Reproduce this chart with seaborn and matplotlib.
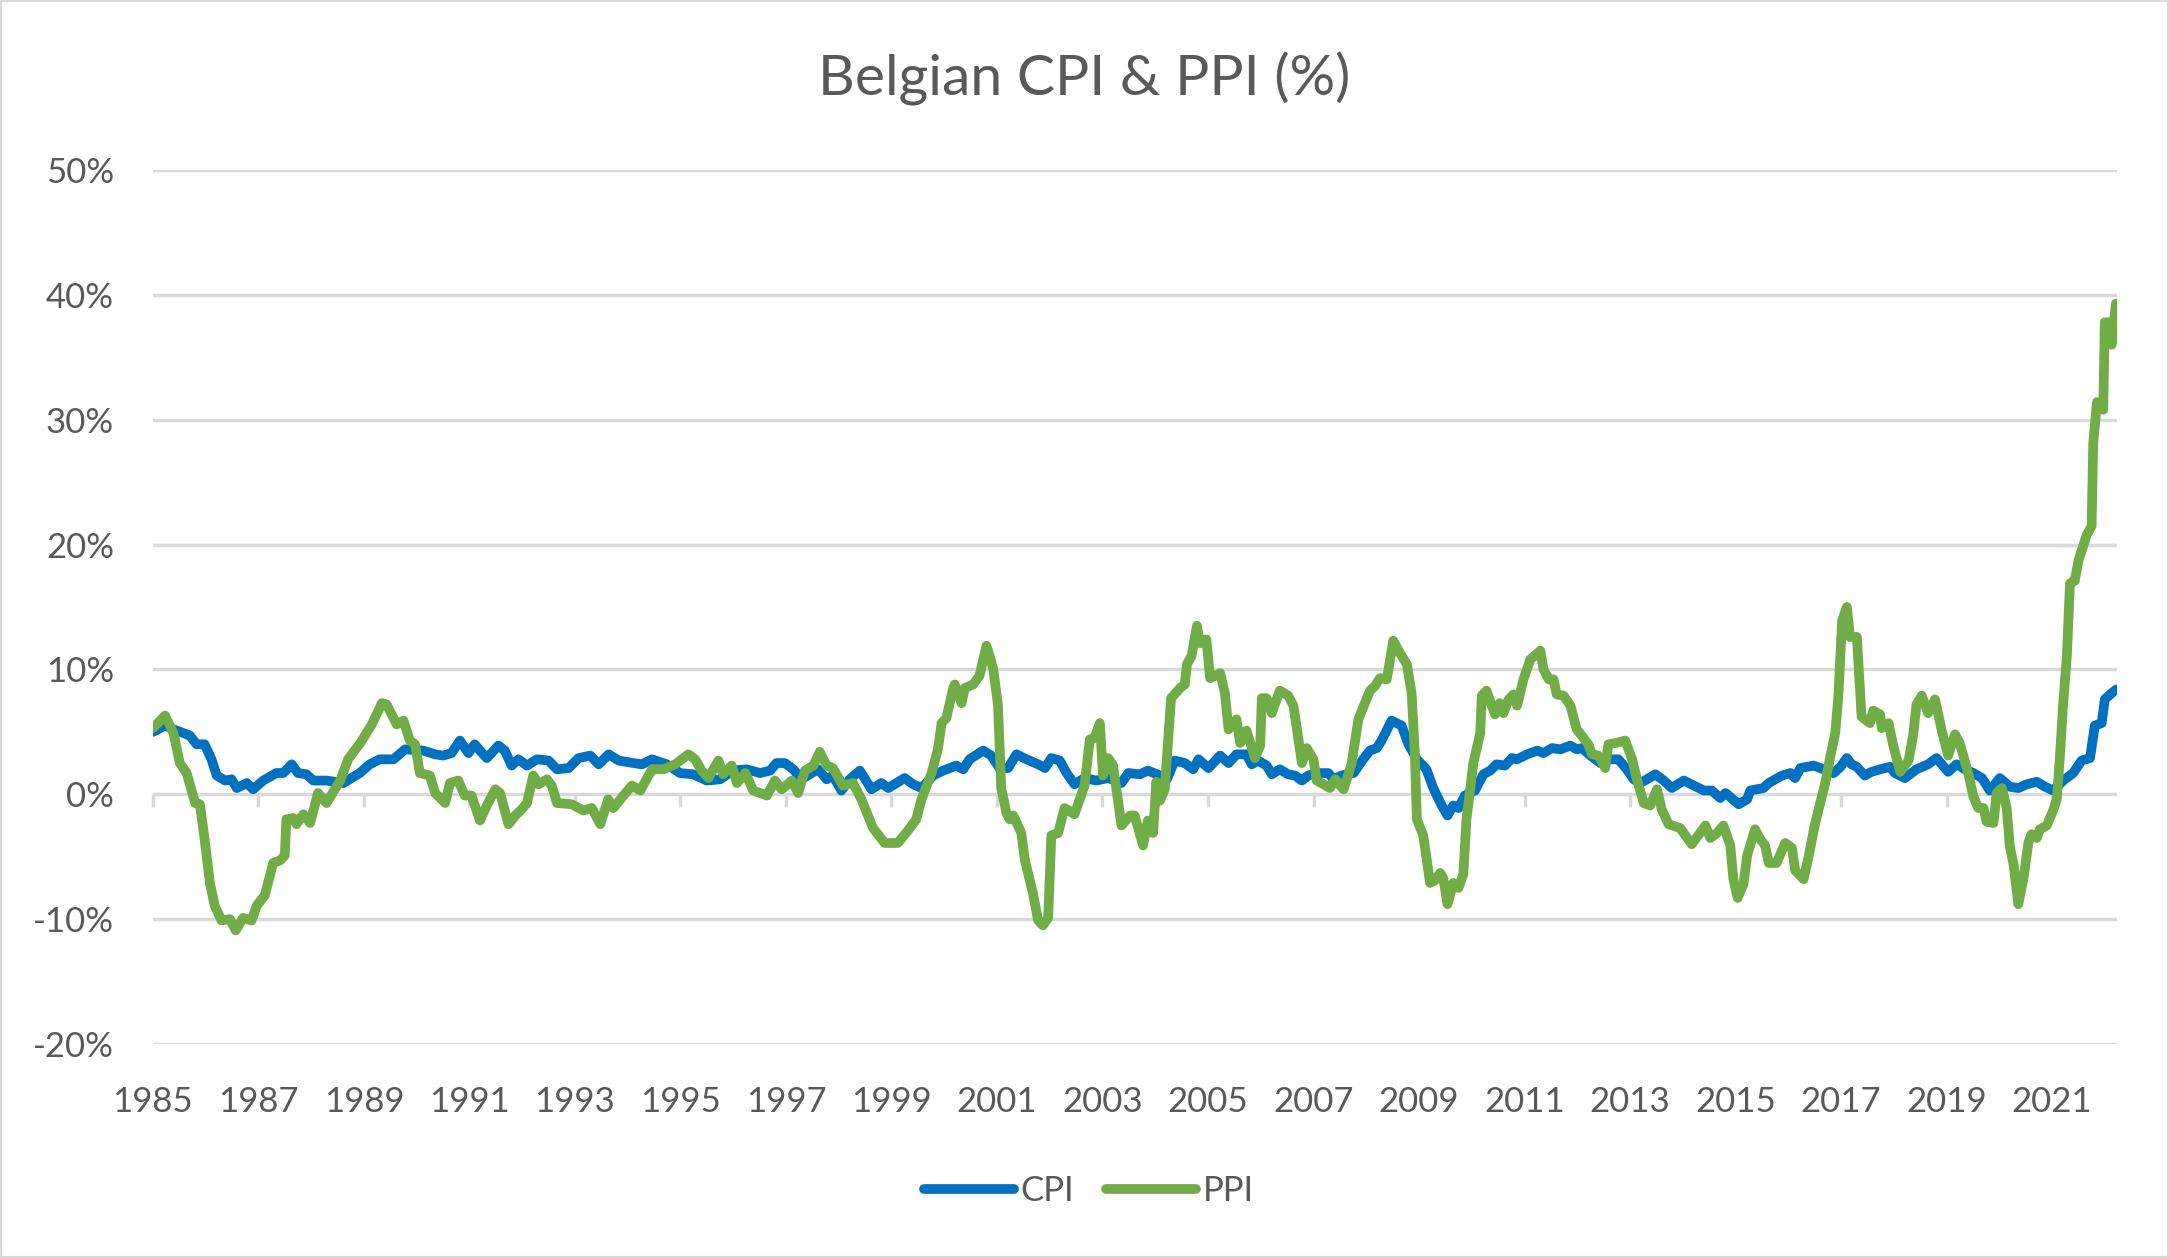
#Belgian CPI & PPI (%) - inflatie pe an, date
import numpy as np
import pandas as pd
import seaborn as sns
import matplotlib.pyplot as plt
from matplotlib.ticker import FuncFormatter
from matplotlib.patches import Rectangle

# CPI - ani zecimali si valori (%)
cpi_date = [1985.00, 1985.23, 1985.39, 1985.58, 1985.70, 1985.83, 1985.98, 1986.11, 1986.21, 1986.37,
            1986.49, 1986.59, 1986.78, 1986.90, 1987.09, 1987.34, 1987.47, 1987.63, 1987.75, 1987.91,
            1988.04, 1988.29, 1988.61, 1988.92, 1989.11, 1989.30, 1989.56, 1989.78, 1990.12, 1990.35,
            1990.50, 1990.66, 1990.82, 1990.98, 1991.10, 1991.20, 1991.33, 1991.55, 1991.67, 1991.80,
            1991.93, 1992.09, 1992.28, 1992.50, 1992.66, 1992.88, 1993.07, 1993.29, 1993.45, 1993.64,
            1993.83, 1994.11, 1994.27, 1994.46, 1994.74, 1994.99, 1995.24, 1995.50, 1995.75, 1996.00,
            1996.25, 1996.51, 1996.70, 1996.82, 1996.98, 1997.14, 1997.29, 1997.45, 1997.61, 1997.77,
            1997.89, 1998.05, 1998.21, 1998.40, 1998.62, 1998.81, 1998.94, 1999.25, 1999.41, 1999.57,
            1999.79, 1999.98, 2000.23, 2000.36, 2000.48, 2000.74, 2000.89, 2001.05, 2001.21, 2001.37,
            2001.56, 2001.78, 2001.91, 2002.03, 2002.19, 2002.32, 2002.47, 2002.66, 2002.88, 2003.11,
            2003.36, 2003.49, 2003.71, 2003.86, 2004.09, 2004.22, 2004.37, 2004.56, 2004.72, 2004.82,
            2005.01, 2005.23, 2005.39, 2005.54, 2005.73, 2005.83, 2005.95, 2006.11, 2006.21, 2006.36,
            2006.52, 2006.65, 2006.78, 2006.90, 2007.09, 2007.28, 2007.38, 2007.53, 2007.76, 2007.94,
            2008.07, 2008.20, 2008.29, 2008.48, 2008.67, 2008.80, 2008.96, 2009.14, 2009.27, 2009.43,
            2009.54, 2009.65, 2009.75, 2009.87, 2010.06, 2010.22, 2010.35, 2010.47, 2010.63, 2010.76,
            2010.86, 2011.05, 2011.24, 2011.36, 2011.52, 2011.68, 2011.87, 2011.99, 2012.09, 2012.25,
            2012.44, 2012.63, 2012.78, 2012.94, 2013.07, 2013.19, 2013.32, 2013.48, 2013.64, 2013.79,
            2014.02, 2014.21, 2014.40, 2014.55, 2014.71, 2014.81, 2015.06, 2015.22, 2015.28, 2015.53,
            2015.63, 2015.88, 2016.04, 2016.13, 2016.23, 2016.48, 2016.67, 2016.86, 2016.99, 2017.11,
            2017.20, 2017.30, 2017.45, 2017.58, 2017.74, 2017.93, 2018.02, 2018.21, 2018.43, 2018.65,
            2018.81, 2019.03, 2019.19, 2019.35, 2019.51, 2019.67, 2019.82, 2020.01, 2020.20, 2020.36,
            2020.52, 2020.71, 2020.87, 2021.02, 2021.21, 2021.40, 2021.56, 2021.72, 2021.81, 2021.94,
            2022.00, 2022.13, 2022.22]
cpi_val = [5.0, 5.5, 5.2, 4.9, 4.7, 4.0, 4.0, 2.8, 1.5, 1.1,
           1.2, 0.5, 0.9, 0.4, 1.1, 1.7, 1.7, 2.4, 1.7, 1.6,
           1.1, 1.1, 0.9, 1.7, 2.4, 2.8, 2.8, 3.6, 3.5, 3.2,
           3.1, 3.3, 4.3, 3.3, 4.0, 3.5, 2.9, 3.9, 3.5, 2.3,
           2.8, 2.3, 2.8, 2.7, 2.0, 2.1, 2.9, 3.1, 2.4, 3.2,
           2.7, 2.5, 2.4, 2.8, 2.4, 1.7, 1.6, 1.1, 1.2, 1.9,
           2.0, 1.7, 1.9, 2.5, 2.5, 2.0, 1.2, 1.6, 2.0, 1.2,
           1.5, 0.3, 1.2, 1.9, 0.4, 0.9, 0.5, 1.3, 0.8, 0.5,
           1.5, 1.9, 2.3, 2.0, 2.8, 3.5, 3.1, 2.1, 2.1, 3.2,
           2.8, 2.4, 2.1, 2.9, 2.7, 1.7, 0.8, 1.3, 1.1, 1.3,
           0.9, 1.7, 1.6, 1.9, 1.5, 1.2, 2.7, 2.5, 2.0, 2.8,
           2.1, 3.1, 2.5, 3.2, 3.2, 2.4, 2.7, 2.3, 1.6, 2.0,
           1.6, 1.5, 1.1, 1.5, 1.7, 1.7, 1.2, 1.5, 1.7, 2.8,
           3.5, 3.7, 4.3, 5.9, 5.5, 4.0, 2.8, 2.0, 0.5, -0.9,
           -1.7, -0.9, -1.1, -0.1, 0.3, 1.6, 1.9, 2.4, 2.3, 2.9,
           2.8, 3.2, 3.5, 3.3, 3.7, 3.6, 3.9, 3.6, 3.7, 3.1,
           2.5, 2.8, 2.8, 2.0, 1.2, 0.9, 1.2, 1.6, 1.1, 0.5,
           1.1, 0.7, 0.3, 0.3, -0.3, 0.1, -0.8, -0.4, 0.3, 0.5,
           0.9, 1.5, 1.7, 1.3, 2.1, 2.3, 2.0, 1.7, 2.2, 2.9,
           2.4, 2.2, 1.5, 1.8, 2.0, 2.2, 1.7, 1.3, 2.0, 2.4,
           2.9, 1.8, 2.4, 2.0, 1.7, 1.3, 0.3, 1.3, 0.6, 0.5,
           0.8, 1.0, 0.6, 0.3, 1.1, 1.7, 2.7, 2.9, 5.5, 5.7,
           7.6, 8.1, 8.4]

# PPI - ani zecimali si valori (%)
ppi_date = [1985.00, 1985.23, 1985.39, 1985.51, 1985.64, 1985.80, 1985.89, 1985.98, 1986.08, 1986.17,
            1986.30, 1986.46, 1986.57, 1986.71, 1986.87, 1986.97, 1987.12, 1987.28, 1987.41, 1987.50,
            1987.53, 1987.66, 1987.72, 1987.85, 1987.98, 1988.13, 1988.29, 1988.55, 1988.70, 1988.93,
            1989.15, 1989.34, 1989.43, 1989.62, 1989.75, 1989.87, 1989.97, 1990.06, 1990.25, 1990.35,
            1990.54, 1990.63, 1990.79, 1990.91, 1991.04, 1991.20, 1991.33, 1991.49, 1991.58, 1991.74,
            1991.87, 1991.99, 1992.09, 1992.21, 1992.31, 1992.47, 1992.56, 1992.66, 1992.94, 1993.16,
            1993.32, 1993.48, 1993.63, 1993.73, 1993.92, 1994.08, 1994.24, 1994.46, 1994.68, 1994.90,
            1995.15, 1995.28, 1995.40, 1995.53, 1995.72, 1995.81, 1995.97, 1996.07, 1996.23, 1996.38,
            1996.64, 1996.79, 1996.92, 1997.11, 1997.23, 1997.36, 1997.52, 1997.64, 1997.77, 1997.89,
            1998.08, 1998.27, 1998.43, 1998.65, 1998.87, 1999.12, 1999.35, 1999.47, 1999.57, 1999.76,
            1999.88, 1999.95, 2000.04, 2000.17, 2000.20, 2000.33, 2000.39, 2000.55, 2000.67, 2000.80,
            2000.86, 2000.93, 2001.02, 2001.08, 2001.18, 2001.24, 2001.31, 2001.46, 2001.53, 2001.68,
            2001.78, 2001.87, 2001.97, 2002.03, 2002.16, 2002.28, 2002.47, 2002.57, 2002.66, 2002.76,
            2002.85, 2002.95, 2003.01, 2003.11, 2003.20, 2003.36, 2003.52, 2003.61, 2003.77, 2003.86,
            2003.96, 2004.02, 2004.09, 2004.18, 2004.30, 2004.47, 2004.56, 2004.60, 2004.69, 2004.79,
            2004.85, 2004.97, 2005.04, 2005.23, 2005.32, 2005.39, 2005.54, 2005.61, 2005.73, 2005.89,
            2005.99, 2006.02, 2006.11, 2006.21, 2006.36, 2006.52, 2006.62, 2006.78, 2006.87, 2007.00,
            2007.06, 2007.19, 2007.31, 2007.41, 2007.57, 2007.72, 2007.85, 2008.07, 2008.17, 2008.26,
            2008.39, 2008.51, 2008.64, 2008.77, 2008.86, 2008.92, 2008.96, 2009.08, 2009.21, 2009.30,
            2009.40, 2009.46, 2009.54, 2009.65, 2009.75, 2009.84, 2009.90, 2010.03, 2010.16, 2010.19,
            2010.28, 2010.44, 2010.53, 2010.60, 2010.70, 2010.79, 2010.86, 2010.98, 2011.11, 2011.30,
            2011.36, 2011.46, 2011.55, 2011.61, 2011.74, 2011.87, 2011.99, 2012.12, 2012.21, 2012.28,
            2012.40, 2012.53, 2012.59, 2012.72, 2012.91, 2013.04, 2013.13, 2013.26, 2013.38, 2013.51,
            2013.60, 2013.73, 2013.95, 2014.05, 2014.17, 2014.43, 2014.52, 2014.65, 2014.77, 2014.90,
            2014.96, 2015.04, 2015.15, 2015.22, 2015.37, 2015.47, 2015.56, 2015.63, 2015.78, 2015.94,
            2016.07, 2016.13, 2016.29, 2016.38, 2016.51, 2016.70, 2016.80, 2016.89, 2016.95, 2017.02,
            2017.11, 2017.17, 2017.30, 2017.39, 2017.55, 2017.61, 2017.74, 2017.77, 2017.90, 2017.99,
            2018.12, 2018.28, 2018.37, 2018.43, 2018.53, 2018.65, 2018.78, 2018.91, 2019.03, 2019.16,
            2019.25, 2019.41, 2019.51, 2019.60, 2019.70, 2019.76, 2019.89, 2019.95, 2020.05, 2020.14,
            2020.20, 2020.27, 2020.36, 2020.46, 2020.55, 2020.61, 2020.71, 2020.77, 2020.90, 2021.02,
            2021.09, 2021.15, 2021.21, 2021.28, 2021.34, 2021.43, 2021.50, 2021.66, 2021.75, 2021.78,
            2021.85, 2021.97, 2022.00, 2022.07, 2022.13, 2022.21]
ppi_val = [5.3, 6.3, 4.9, 2.5, 1.7, -0.7, -0.8, -3.6, -7.1, -8.9,
           -10.1, -10.0, -10.9, -9.9, -10.1, -8.9, -8.1, -5.5, -5.3, -4.9,
           -2.0, -1.9, -2.4, -1.6, -2.3, 0.1, -0.7, 1.1, 2.8, 4.1,
           5.6, 7.3, 7.2, 5.6, 5.9, 4.3, 4.0, 1.7, 1.5, 0.1,
           -0.7, 0.9, 1.1, -0.1, -0.1, -2.1, -0.9, 0.4, 0.1, -2.4,
           -1.7, -1.2, -0.7, 1.5, 0.8, 1.2, 0.7, -0.7, -0.8, -1.3,
           -1.1, -2.4, -0.4, -1.1, -0.1, 0.7, 0.3, 2.0, 2.0, 2.4,
           3.2, 2.8, 1.9, 1.3, 2.7, 1.6, 2.3, 0.9, 1.7, 0.3,
           -0.1, 1.1, 0.4, 1.1, 0.1, 1.9, 2.3, 3.4, 2.3, 2.1,
           0.7, 0.9, -0.4, -2.7, -3.9, -3.9, -2.7, -2.0, -0.4, 1.7,
           3.6, 5.7, 6.1, 8.5, 8.8, 7.3, 8.5, 8.8, 9.5, 11.9,
           11.1, 10.0, 7.1, 0.5, -1.5, -2.0, -1.7, -3.1, -5.3, -7.9,
           -10.1, -10.5, -9.9, -3.3, -3.1, -1.1, -1.6, -0.4, 0.7, 4.4,
           4.5, 5.7, 1.5, 2.9, 2.3, -2.5, -1.7, -1.7, -4.1, -2.1,
           -3.1, 1.0, -0.5, 0.4, 7.7, 8.5, 8.8, 10.4, 11.1, 13.5,
           12.1, 12.4, 9.3, 9.7, 8.1, 5.2, 6.0, 4.1, 5.1, 2.9,
           3.9, 7.7, 7.7, 6.5, 8.3, 7.9, 7.1, 2.5, 3.7, 2.8,
           1.1, 0.8, 0.5, 1.2, 0.4, 2.4, 6.0, 8.3, 8.7, 9.3,
           9.2, 12.3, 11.3, 10.4, 8.1, 3.3, -2.0, -3.3, -7.1, -6.9,
           -6.3, -6.7, -8.8, -7.1, -7.5, -6.4, -2.0, 2.5, 4.9, 7.9,
           8.3, 6.4, 7.3, 6.5, 7.6, 8.0, 7.1, 9.2, 10.8, 11.5,
           10.0, 9.2, 9.2, 8.0, 7.9, 7.1, 5.2, 4.5, 4.0, 3.2,
           3.1, 2.1, 4.0, 4.1, 4.3, 2.8, 1.2, -0.7, -0.9, 0.4,
           -1.2, -2.4, -2.7, -3.3, -4.0, -2.5, -3.5, -3.1, -2.5, -4.1,
           -6.8, -8.3, -7.2, -4.9, -2.8, -3.6, -4.1, -5.5, -5.5, -3.9,
           -4.3, -6.1, -6.8, -5.1, -2.3, 0.9, 3.1, 4.9, 7.9, 13.9,
           15.0, 12.6, 12.6, 6.2, 5.7, 6.7, 6.4, 5.3, 5.7, 3.9,
           1.8, 2.7, 4.8, 7.2, 7.9, 6.5, 7.6, 5.1, 3.1, 4.8,
           4.1, 1.7, -0.2, -1.1, -1.1, -2.2, -2.3, 0.1, 0.5, -1.1,
           -4.2, -5.6, -8.8, -6.7, -3.9, -3.2, -3.5, -2.8, -2.5, -1.3,
           -0.4, 3.1, 7.2, 11.0, 16.9, 17.1, 18.7, 20.8, 21.5, 28.1,
           31.4, 30.8, 37.8, 37.8, 36.0, 39.3]

ani_etichete = list(range(1985, 2022, 2))
y_ticks = [-20, -10, 0, 10, 20, 30, 40, 50]

cpi = pd.DataFrame({"data": cpi_date, "val": cpi_val})
ppi = pd.DataFrame({"data": ppi_date, "val": ppi_val})

sns.set_style("white")
plt.rcParams["font.family"] = ["Lato", "DejaVu Sans"]
gri_text = "#595959"
gri_grid = "#d9d9d9"

fig = plt.figure(figsize=(21.69, 12.58), dpi=100)
ax = fig.add_axes([0.0705, 0.1701, 0.9055, 0.6948])

sns.lineplot(data=cpi, x="data", y="val", ax=ax, color="#0070C0", linewidth=7,
             label="CPI", estimator=None, sort=False)
sns.lineplot(data=ppi, x="data", y="val", ax=ax, color="#70AD47", linewidth=7,
             label="PPI", estimator=None, sort=False)
for ln in ax.get_lines():
    ln.set_solid_joinstyle("round")

ax.set_xlim(1985, 2022.23)
ax.set_ylim(-20, 50)
ax.set_yticks(y_ticks)
ax.yaxis.set_major_formatter(FuncFormatter(lambda v, p: "%d%%" % v))
ax.set_xticks(ani_etichete)
ax.set_xticklabels([str(a) for a in ani_etichete])
ax.set_xlabel("")
ax.set_ylabel("")
ax.grid(axis="y", color=gri_grid, linewidth=2.5)
ax.set_axisbelow(True)
for s in ax.spines.values():
    s.set_visible(False)
ax.tick_params(axis="both", length=0, labelsize=25, labelcolor=gri_text)
ax.tick_params(axis="y", pad=28)
ax.tick_params(axis="x", pad=30)

# axa orizontala la 0% cu gradatii (ca in Excel)
sec = ax.secondary_xaxis(20 / 70)
sec.set_xticks(ani_etichete)
sec.set_xticklabels([])
sec.tick_params(axis="x", direction="out", length=9.5, width=2.4, color=gri_grid)
for s in sec.spines.values():
    s.set_visible(False)

ax.get_legend().remove()
h, l = ax.get_legend_handles_labels()
leg = fig.legend(h, l, loc="center", bbox_to_anchor=(0.502, 0.053), ncol=2, frameon=False,
                 fontsize=25, handlelength=2.6, handletextpad=0.2, columnspacing=0.9)
for t in leg.get_texts():
    t.set_color(gri_text)
for ln in leg.get_lines():
    ln.set_solid_capstyle("round")

fig.text(0.5, 0.937, "Belgian CPI & PPI (%)", ha="center", va="center", fontsize=41, color=gri_text)

fig.patches.append(Rectangle((0, 0), 1, 1, transform=fig.transFigure, fill=False,
                             edgecolor=gri_grid, linewidth=3))

plt.savefig("out.png", dpi=100)
